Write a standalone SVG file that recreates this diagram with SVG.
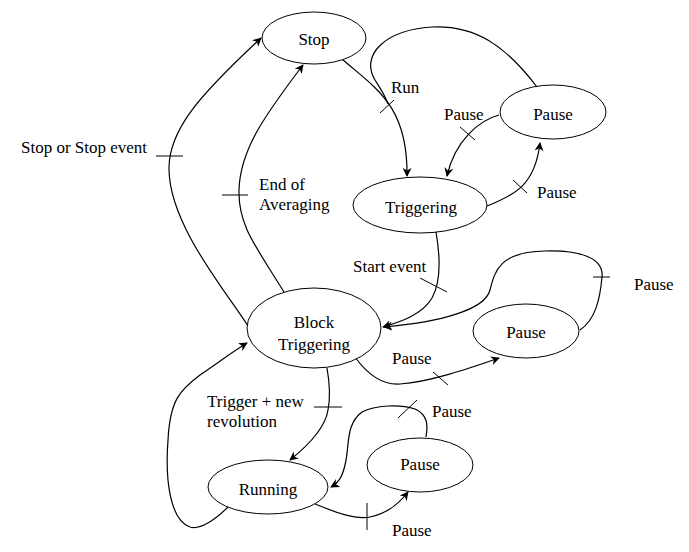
<svg xmlns="http://www.w3.org/2000/svg" width="689" height="552" viewBox="0 0 689 552">
<style>
.n ellipse{fill:#fff;stroke:#000;stroke-width:1}
text{font-family:"Liberation Serif","Times New Roman",serif;font-size:17px;fill:#000}
.c{text-anchor:middle}
#connectors path{fill:none;stroke:#000;stroke-width:1.2}
#connectors path.a{marker-end:url(#arr)}
#ticks line{stroke:#000;stroke-width:1}
</style>
<defs>
<marker id="arr" viewBox="0 0 10 10" refX="9" refY="5" markerWidth="9" markerHeight="9" orient="auto" markerUnits="userSpaceOnUse">
<path d="M0,0 L10,5 L0,10 L3,5 z" fill="#000"/>
</marker>
</defs>
<rect width="689" height="552" fill="#fff"/>
<g id="connectors">
<path class="a" d="M342,59 C375,88 408,105 407,176"/>
<path d="M537,87 C505,45 475,25 432,27 C385,30 360,55 375,80 C380,88 385,95 388,104"/>
<path class="a" d="M499,115 C480,120 455,140 447,176"/>
<path class="a" d="M487,206 C515,195 535,185 540,143"/>
<path class="a" d="M436,232 C440,255 442,280 432,298 C422,315 400,322 383,327"/>
<path class="a" d="M580,330 C595,320 600,300 602,277 C604,258 580,250 545,251 C500,252 495,270 490,290 C485,310 440,322 384,327"/>
<path class="a" d="M355,357 C370,378 385,385 400,384 C430,382 470,368 499,358"/>
<path class="a" d="M327,368 C330,385 330,400 328,410 C325,430 305,448 290,460"/>
<path class="a" d="M228,507 C215,520 200,530 190,527 C170,520 165,480 168,440 C170,400 180,390 200,375 C215,365 235,350 247,343"/>
<path class="a" d="M426,437 C428,425 428,415 415,409 C400,404 375,405 362,412 C345,425 350,445 345,465 C342,478 338,483 331,487"/>
<path class="a" d="M315,504 C335,512 355,520 370,517 C385,514 398,505 408,492"/>
<path class="a" d="M284,292 C255,245 238,225 239,190 C240,150 265,115 303,65"/>
<path class="a" d="M248,326 C225,290 170,225 169,170 C168,130 200,95 261,38"/>
</g>
<g id="ticks">
<line x1="380" y1="113" x2="394" y2="100"/>
<line x1="460" y1="127" x2="475" y2="140"/>
<line x1="513" y1="180" x2="527" y2="193"/>
<line x1="420" y1="278" x2="447" y2="292"/>
<line x1="593" y1="277" x2="610" y2="277"/>
<line x1="433" y1="372" x2="448" y2="385"/>
<line x1="314" y1="407" x2="342" y2="407"/>
<line x1="398" y1="418" x2="417" y2="400"/>
<line x1="367" y1="503" x2="367" y2="530"/>
<line x1="222" y1="195" x2="248" y2="195"/>
<line x1="156" y1="156" x2="183" y2="156"/>
</g>
<g id="labels">
<text x="391" y="93">Run</text>
<text x="444" y="120">Pause</text>
<text x="537" y="198">Pause</text>
<text x="353" y="272">Start event</text>
<text x="634" y="290">Pause</text>
<text x="392" y="364">Pause</text>
<text x="207" y="407">Trigger + new</text>
<text x="207" y="427">revolution</text>
<text x="432" y="417">Pause</text>
<text x="392" y="536">Pause</text>
<text x="259" y="190">End of</text>
<text x="259" y="210">Averaging</text>
<text x="21" y="153">Stop or Stop event</text>
</g>
<g id="stop" class="n"><ellipse cx="314" cy="38" rx="52" ry="26"/><text class="c" x="314" y="45">Stop</text></g>
<g id="pause1" class="n"><ellipse cx="553" cy="112" rx="53" ry="27"/><text class="c" x="553" y="120">Pause</text></g>
<g id="triggering" class="n"><ellipse cx="420" cy="205" rx="67" ry="28"/><text class="c" x="421" y="213">Triggering</text></g>
<g id="block" class="n"><ellipse cx="314" cy="328" rx="67" ry="40"/><text class="c" x="314" y="328">Block</text><text class="c" x="314" y="350">Triggering</text></g>
<g id="pause2" class="n"><ellipse cx="526" cy="331" rx="53" ry="27"/><text class="c" x="526" y="338">Pause</text></g>
<g id="running" class="n"><ellipse cx="268" cy="487" rx="60" ry="27"/><text class="c" x="268" y="495">Running</text></g>
<g id="pause3" class="n"><ellipse cx="420" cy="465" rx="53" ry="27"/><text class="c" x="420" y="470">Pause</text></g>
</svg>
